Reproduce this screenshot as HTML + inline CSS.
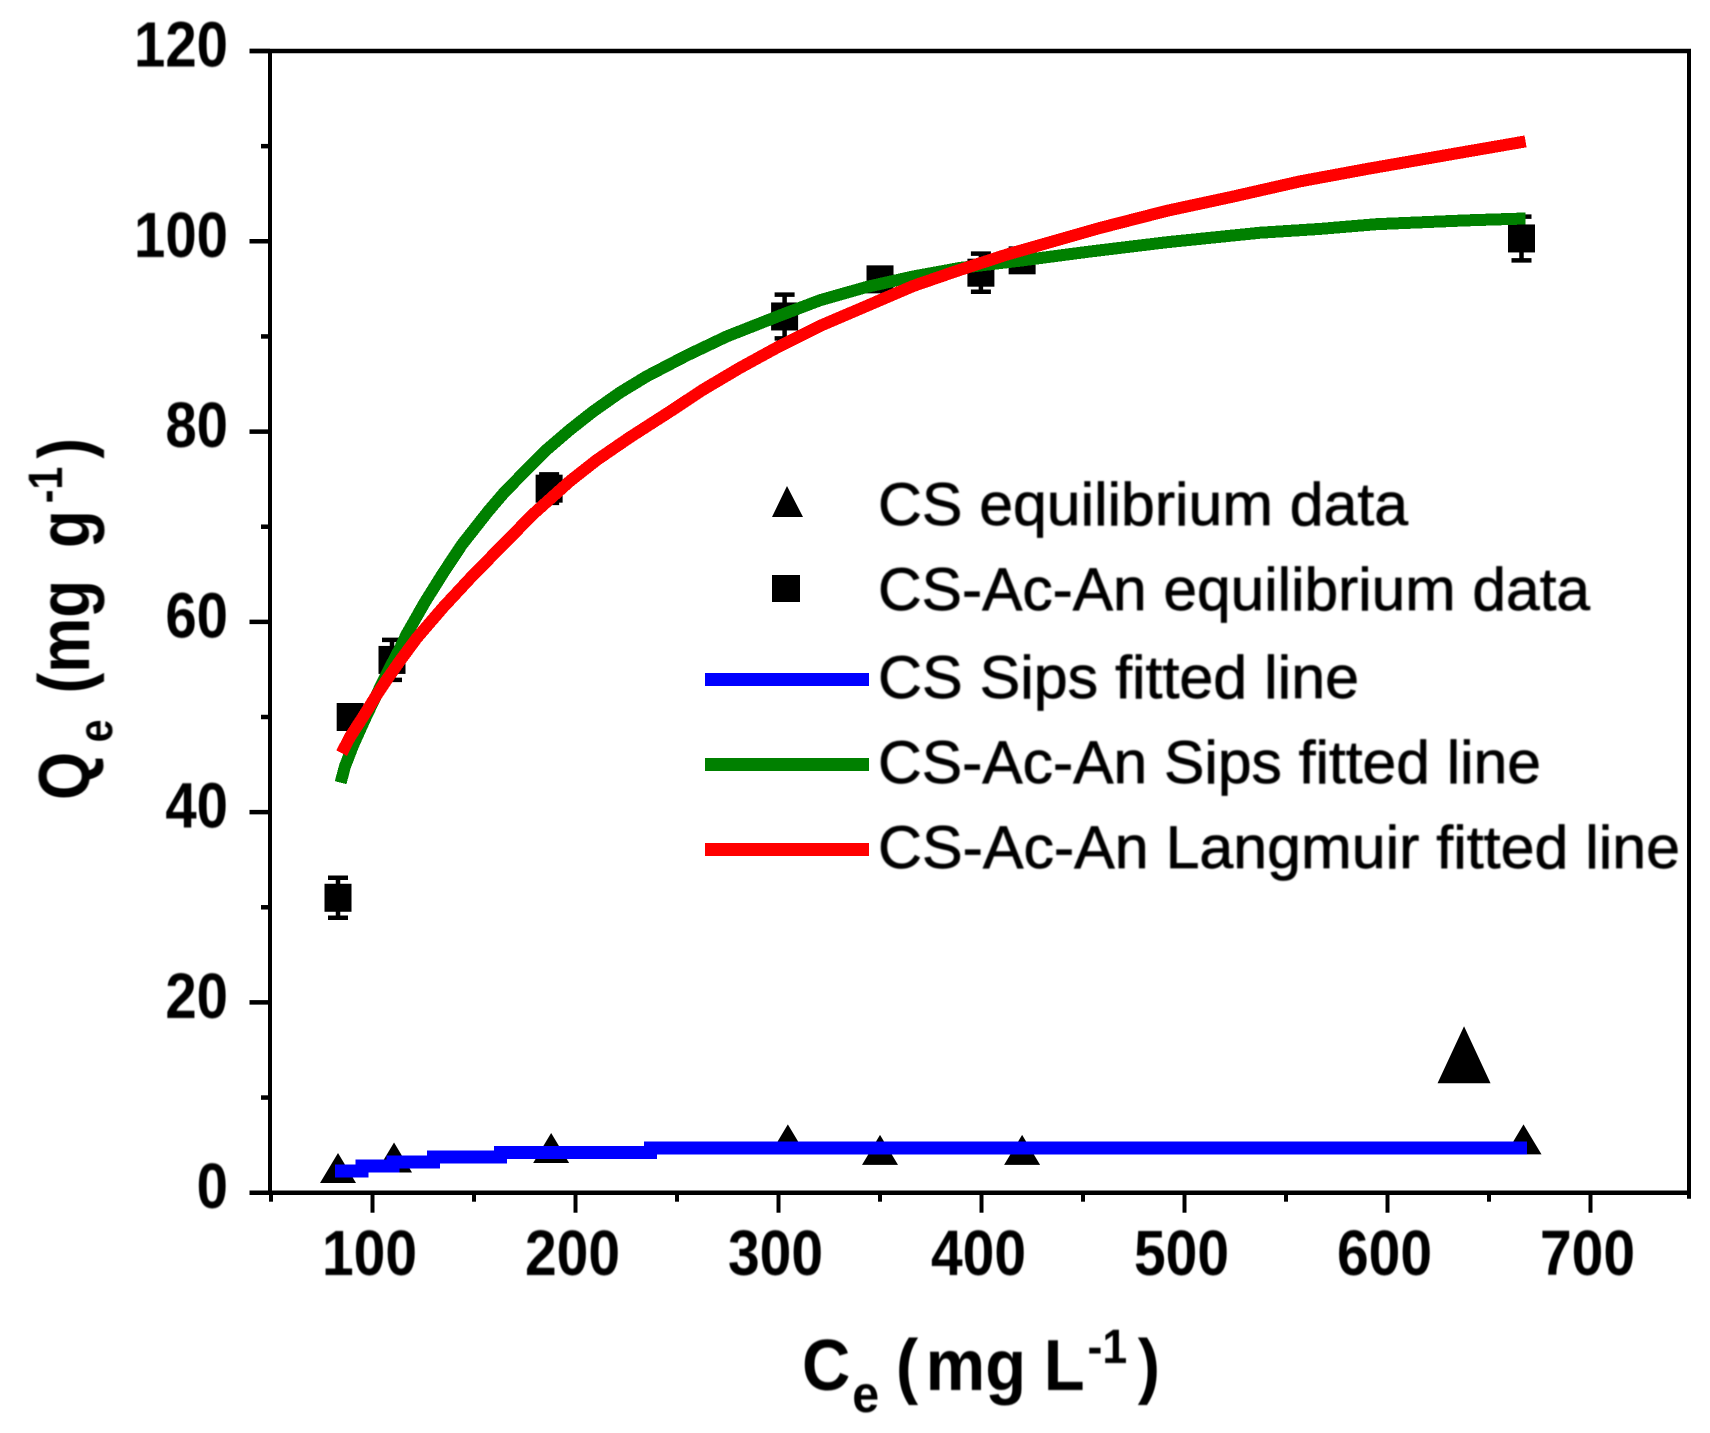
<!DOCTYPE html>
<html lang="en">
<head>
<meta charset="utf-8">
<title>Qe vs Ce isotherm chart</title>
<style>
  html, body { margin: 0; padding: 0; background: #fff; }
  svg { display: block; }
  text { font-family: "Liberation Sans", sans-serif; fill: #000; }
  .bold-text { font-weight: bold; }
  .soft { filter: blur(0.7px); }
  .legend-label { font-size: 60px; stroke: #000; stroke-width: 0.7px; }
  .tick-label { font-size: 64px; font-weight: bold; }
</style>
</head>
<body>
<svg id="chart" xmlns="http://www.w3.org/2000/svg" width="1710" height="1433" viewBox="0 0 1710 1433">
  <rect x="0" y="0" width="1710" height="1433" fill="#fff"/>

  <g id="marks"></g>
  <g id="axes"></g>

  <g class="soft" transform="translate(802,1390) scale(0.93,1)">
    <text class="bold-text" font-size="72"><tspan x="0">C</tspan><tspan x="54" y="22" font-size="52">e</tspan> <tspan x="101" y="0">(</tspan><tspan x="133" y="0">mg</tspan> <tspan x="260" y="0">L</tspan><tspan x="307" y="-27" font-size="48">-1</tspan><tspan x="361" y="0">)</tspan></text>
  </g>

  <g class="soft" transform="translate(89,800) rotate(-90) scale(0.86,1)">
    <text class="bold-text" font-size="72"><tspan x="0">Q</tspan><tspan x="67" y="23" font-size="48">e</tspan> <tspan x="124" y="0">(</tspan><tspan x="148" y="0">mg</tspan> <tspan x="293" y="0">g</tspan><tspan x="345" y="-27" font-size="48">-1</tspan><tspan x="397" y="0">)</tspan></text>
  </g>

  <g>
    <polygon points="787,486 803,517 772,517" fill="#000"/>
    <rect x="772" y="575" width="28" height="27" fill="#000"/>
    <rect x="705" y="673" width="164" height="13" fill="#0000ff"/>
    <rect x="705" y="758" width="164" height="13" fill="#008000"/>
    <rect x="705" y="843" width="164" height="13" fill="#ff0000"/>
    <g class="soft">
      <text class="legend-label" x="878" y="525" textLength="530" lengthAdjust="spacingAndGlyphs">CS equilibrium data</text>
      <text class="legend-label" x="878" y="610" textLength="712" lengthAdjust="spacingAndGlyphs">CS-Ac-An equilibrium data</text>
      <text class="legend-label" x="878" y="698" textLength="481" lengthAdjust="spacingAndGlyphs">CS Sips  fitted line</text>
      <text class="legend-label" x="878" y="783" textLength="663" lengthAdjust="spacingAndGlyphs">CS-Ac-An Sips fitted line</text>
      <text class="legend-label" x="878" y="868" textLength="802" lengthAdjust="spacingAndGlyphs">CS-Ac-An Langmuir fitted line</text>
    </g>
  </g>
</svg>

<script>
// ---- chart data ----
const xMajorTicks = [100, 200, 300, 400, 500, 600, 700];
const xMinorTicks = [50, 150, 250, 350, 450, 550, 650];
const yMajorTicks = [0, 20, 40, 60, 80, 100, 120];
const yMinorTicks = [10, 30, 50, 70, 90, 110];
const xTickLabels = ['100', '200', '300', '400', '500', '600', '700'];
const yTickLabels = ['0', '20', '40', '60', '80', '100', '120'];

const csDataX = [83, 110.6, 188, 304.6, 350, 420, 667];
const csDataY = [2.6, 3.7, 4.7, 5.6, 4.5, 4.5, 5.6];

const outlierX = [637.7];
const outlierY = [14.5];

const acAnDataX = [83, 89, 109.6, 187, 303, 350, 399.7, 420, 666];
const acAnDataY = [31, 50, 56, 74, 92.1, 96, 96.7, 98, 100.3];
const acAnDataErr = [2.1, 1, 2.1, 1.5, 2.3, 1, 2, 1, 2.3];

const csSipsX = [81.5, 94.8, 110, 130, 163, 237, 668.7];
const csSipsY = [2.3, 2.8, 3.25, 3.75, 4.2, 4.7, 4.7];

const acAnSipsX = [84.3, 86.4, 90.4, 96.3, 101.2, 107.6, 113.5, 116.8, 125.9, 134.7, 144, 156.9, 165.3, 176, 185.8, 197.3, 208.6, 221.9, 235, 254.8, 274.5, 300.7, 320.4, 343.4, 366.3, 389.4, 420.4, 452.5, 491.2, 537.2, 566.7, 594.7, 639, 668];
const acAnSipsY = [43.1, 44.8, 47, 49.8, 52, 54.8, 57.2, 58.7, 62.1, 65.1, 68.1, 71.6, 73.7, 76, 78.1, 80.2, 82.1, 84.1, 85.8, 88, 90, 92.2, 93.8, 95.2, 96.3, 97.2, 98, 98.9, 99.9, 100.9, 101.3, 101.8, 102.2, 102.4];

const langmuirX = [84.8, 88.9, 95.3, 102, 107.6, 113.5, 121.8, 134.7, 149.5, 164.3, 179, 197.3, 210.4, 226.8, 246.5, 262.8, 281, 300.7, 320.4, 343.4, 366.3, 389.4, 412.4, 438.6, 458.3, 491.2, 523.9, 556.9, 589.8, 635.5, 668];
const langmuirY = [46.2, 47.9, 50, 52.3, 54.1, 55.9, 58.3, 61.5, 64.9, 68.1, 71.3, 74.8, 77, 79.4, 82.1, 84.4, 86.7, 89, 91.1, 93.2, 95.3, 97, 98.6, 100.2, 101.4, 103.2, 104.7, 106.3, 107.6, 109.3, 110.5];

// ---- axis functions ----
const SVG_NS = 'http://www.w3.org/2000/svg';
function xScale(v) { return 270 + (v - 49.5) * 2.03; }
function yScale(v) { return 1192.7 - v * 9.514; }

function make(tag, attrs, parent) {
  const el = document.createElementNS(SVG_NS, tag);
  for (const k in attrs) el.setAttribute(k, attrs[k]);
  parent.appendChild(el);
  return el;
}

const marks = document.getElementById('marks');
const axes = document.getElementById('axes');

// ---- frame ----
const frameLeft = 270, frameRight = 1689, frameTop = yScale(120), frameBottom = yScale(0);
const topSpine = make('line', {x1: 249.5, x2: frameRight + 2, y1: frameTop, y2: frameTop, stroke: '#000', 'stroke-width': 4.5}, axes);


const bottomSpine = make('line', {x1: 249.5, x2: frameRight + 2, y1: frameBottom, y2: frameBottom, stroke: '#000', 'stroke-width': 4.5}, axes);


const leftSpine = make('line', {x1: frameLeft, x2: frameLeft, y1: frameTop, y2: frameBottom, stroke: '#000', 'stroke-width': 4}, axes);


const rightSpine = make('line', {x1: frameRight, x2: frameRight, y1: frameTop, y2: frameBottom + 6, stroke: '#000', 'stroke-width': 4}, axes);



// ---- ticks ----
xMajorTicks.forEach(function (v, i) {
  const t = make('line', {x1: xScale(v), x2: xScale(v), y1: frameBottom, y2: frameBottom + 20, stroke: '#000', 'stroke-width': 4}, axes);
  
  
  const lab = make('text', {transform: 'translate(' + (xScale(v) - 3) + ',1275) scale(0.89,1)', 'text-anchor': 'middle', 'class': 'tick-label soft'}, axes);
  
  
  lab.textContent = xTickLabels[i];
});
xMinorTicks.forEach(function (v) {
  const t = make('line', {x1: xScale(v), x2: xScale(v), y1: frameBottom, y2: frameBottom + 9, stroke: '#000', 'stroke-width': 4}, axes);
  
  
});
yMajorTicks.forEach(function (v, i) {
  const t = make('line', {x1: 249.5, x2: frameLeft, y1: yScale(v), y2: yScale(v), stroke: '#000', 'stroke-width': 4.5}, axes);
  
  
  const lab = make('text', {transform: 'translate(228,' + (yScale(v) + 15.5) + ') scale(0.88,1)', 'text-anchor': 'end', 'class': 'tick-label soft'}, axes);
  
  
  lab.textContent = yTickLabels[i];
});
yMinorTicks.forEach(function (v) {
  const t = make('line', {x1: 261, x2: frameLeft, y1: yScale(v), y2: yScale(v), stroke: '#000', 'stroke-width': 4.5}, axes);
  
  
});

// ---- triangle markers ----
function trianglePoints(cx, cy, w, h) {
  return cx + ',' + (cy - h / 2) + ' ' + (cx + w / 2) + ',' + (cy + h / 2) + ' ' + (cx - w / 2) + ',' + (cy + h / 2);
}
csDataX.forEach(function (v, i) {
  const tri = make('polygon', {points: trianglePoints(xScale(v), yScale(csDataY[i]), 36, 30), fill: '#000'}, marks);
  
  
});
outlierX.forEach(function (v, i) {
  const tri = make('polygon', {points: trianglePoints(xScale(v), yScale(outlierY[i]), 53, 57), fill: '#000'}, marks);
  
  
});

// ---- square markers with error bars ----
acAnDataX.forEach(function (v, i) {
  const cx = xScale(v);
  const cy = yScale(acAnDataY[i]);
  const hi = yScale(acAnDataY[i] + acAnDataErr[i]);
  const lo = yScale(acAnDataY[i] - acAnDataErr[i]);
  const bar = make('path', {d: 'M' + cx + ' ' + hi + 'V' + lo + 'M' + (cx - 10) + ' ' + hi + 'H' + (cx + 10) + 'M' + (cx - 10) + ' ' + lo + 'H' + (cx + 10), stroke: '#000', 'stroke-width': 4.5, fill: 'none'}, marks);
  
  
  const sq = make('rect', {x: cx - 13.5, y: cy - 14, width: 27, height: 28, fill: '#000'}, marks);
  
  
});

// ---- fitted lines ----
function stepPath(xs, ys) {
  let d = 'M' + xScale(xs[0]) + ' ' + yScale(ys[0]);
  for (let i = 1; i < xs.length; i++) {
    d += 'H' + xScale(xs[i]);
    d += 'V' + yScale(ys[i]);
  }
  return d;
}
function linePath(xs, ys) {
  return xs.map(function (v, i) {
    return (i ? 'L' : 'M') + xScale(v) + ' ' + yScale(ys[i]);
  }).join('');
}
const blueLine = make('path', {d: stepPath(csSipsX, csSipsY), fill: 'none', stroke: '#0000ff', 'stroke-width': 13, 'stroke-linejoin': 'miter', 'shape-rendering': 'crispEdges'}, marks);


const greenLine = make('path', {d: linePath(acAnSipsX, acAnSipsY), fill: 'none', stroke: '#008000', 'stroke-width': 12, 'stroke-linejoin': 'round', 'shape-rendering': 'crispEdges'}, marks);


const redLine = make('path', {d: linePath(langmuirX, langmuirY), fill: 'none', stroke: '#ff0000', 'stroke-width': 12, 'stroke-linejoin': 'round', 'shape-rendering': 'crispEdges'}, marks);


</script>
</body>
</html>
